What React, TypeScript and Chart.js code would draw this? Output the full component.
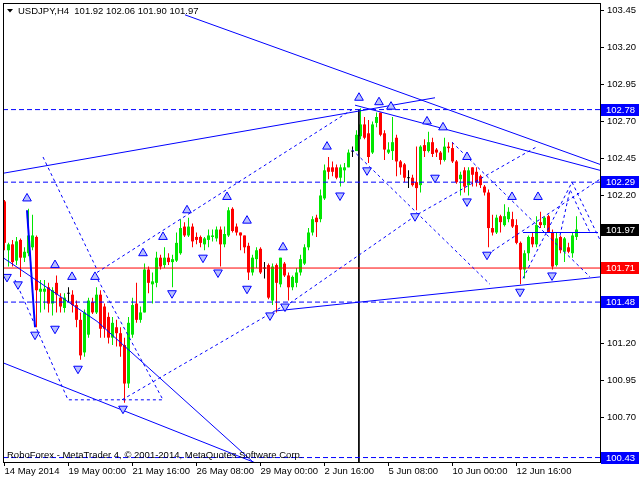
import React, { useEffect, useRef } from "react";
import { Chart, registerables } from "chart.js";

Chart.register(...registerables);

// ---- candle data (H4 bars, USDJPY) ----
const opens = [
  102.16, 101.83, 101.87, 101.76, 101.90, 101.78, 101.81, 101.85, 101.92, 101.55,
  101.55, 101.58, 101.47, 101.61, 101.51, 101.44, 101.54, 101.53, 101.46, 101.36,
  101.14, 101.26, 101.48, 101.41, 101.53, 101.45, 101.38, 101.24, 101.31, 101.27,
  101.19, 100.93, 101.26, 101.47, 101.36, 101.41, 101.70, 101.60, 101.61, 101.78,
  101.73, 101.78, 101.75, 101.76, 101.81, 101.99, 101.93, 101.99, 101.92, 101.92,
  101.87, 101.90, 101.92, 101.91, 101.97, 101.87, 101.93, 102.11, 101.99, 101.95,
  101.93, 101.86, 101.68, 101.77, 101.84, 101.71, 101.73, 101.49, 101.73, 101.60,
  101.74, 101.66, 101.58, 101.61, 101.68, 101.74, 101.85, 101.95, 102.05, 102.04,
  102.18, 102.39, 102.39, 102.39, 102.32, 102.37, 102.39, 102.50, 102.50, 102.60,
  102.68, 102.62, 102.49, 102.69, 102.76, 102.62, 102.49, 102.50, 102.59, 102.43,
  102.41, 102.32, 102.32, 102.29, 102.27, 102.54, 102.50, 102.56, 102.51, 102.49,
  102.44, 102.53, 102.52, 102.43, 102.31, 102.37, 102.27, 102.39, 102.36, 102.33,
  102.26, 102.22, 101.98, 101.95, 102.06, 102.00, 102.04, 102.04, 102.00, 101.88,
  101.70, 101.81, 101.92, 101.87, 102.02, 102.00, 102.06, 101.95, 101.73, 101.92,
  101.82, 101.85, 101.81, 101.92,
];
const highs = [
  102.17, 101.88, 101.90, 101.92, 101.91, 101.85, 102.11, 102.07, 101.93, 101.63,
  101.63, 101.61, 101.58, 101.66, 101.54, 101.54, 101.58, 101.56, 101.49, 101.41,
  101.43, 101.51, 101.51, 101.58, 101.56, 101.47, 101.41, 101.38, 101.36, 101.31,
  101.24, 101.38, 101.51, 101.61, 101.45, 101.74, 101.72, 101.68, 101.82, 101.80,
  101.85, 101.81, 101.80, 101.95, 102.04, 102.02, 102.05, 102.01, 101.95, 101.93,
  101.92, 101.97, 101.97, 101.99, 101.99, 101.99, 102.12, 102.12, 102.01, 101.95,
  101.93, 101.88, 101.80, 101.85, 101.85, 101.75, 101.74, 101.74, 101.74, 101.78,
  101.75, 101.68, 101.66, 101.71, 101.80, 101.87, 101.98, 102.06, 102.07, 102.24,
  102.41, 102.46, 102.43, 102.41, 102.41, 102.42, 102.51, 102.53, 102.64, 102.79,
  102.73, 102.71, 102.70, 102.76, 102.76, 102.64, 102.56, 102.73, 102.61, 102.44,
  102.42, 102.37, 102.34, 102.53, 102.54, 102.58, 102.63, 102.59, 102.52, 102.50,
  102.59, 102.56, 102.56, 102.44, 102.36, 102.39, 102.39, 102.39, 102.39, 102.34,
  102.27, 102.24, 102.07, 102.07, 102.07, 102.14, 102.12, 102.09, 102.04, 101.89,
  101.83, 101.93, 101.95, 102.06, 102.09, 102.06, 102.07, 101.97, 101.95, 101.93,
  101.92, 101.88, 101.95, 102.06,
];
const lows = [
  101.83, 101.72, 101.72, 101.73, 101.65, 101.75, 101.79, 101.83, 101.31, 101.41,
  101.43, 101.41, 101.39, 101.41, 101.41, 101.41, 101.48, 101.41, 101.31, 101.09,
  101.11, 101.24, 101.40, 101.40, 101.24, 101.24, 101.20, 101.19, 101.18, 101.11,
  100.80, 100.90, 101.24, 101.34, 101.34, 101.41, 101.54, 101.47, 101.58, 101.70,
  101.71, 101.73, 101.58, 101.75, 101.80, 101.92, 101.92, 101.85, 101.87, 101.85,
  101.83, 101.85, 101.89, 101.89, 101.72, 101.85, 101.92, 101.95, 101.93, 101.83,
  101.81, 101.63, 101.66, 101.71, 101.67, 101.64, 101.50, 101.46, 101.41, 101.58,
  101.65, 101.49, 101.56, 101.58, 101.66, 101.73, 101.83, 101.93, 101.92, 102.02,
  102.17, 102.31, 102.33, 102.31, 102.26, 102.29, 102.39, 102.46, 102.50, 102.58,
  102.58, 102.42, 102.48, 102.66, 102.60, 102.44, 102.48, 102.44, 102.33, 102.34,
  102.29, 102.25, 102.26, 102.10, 102.22, 102.46, 102.49, 102.46, 102.46, 102.41,
  102.43, 102.49, 102.42, 102.28, 102.20, 102.22, 102.20, 102.26, 102.26, 102.25,
  102.20, 101.85, 101.93, 101.94, 101.95, 101.99, 102.02, 101.98, 101.87, 101.60,
  101.64, 101.76, 101.85, 101.85, 101.98, 101.98, 101.95, 101.70, 101.72, 101.81,
  101.75, 101.81, 101.78, 101.90,
];
const closes = [
  101.88, 101.87, 101.75, 101.89, 101.78, 101.82, 101.93, 101.93, 101.56, 101.57,
  101.57, 101.47, 101.56, 101.53, 101.45, 101.51, 101.54, 101.46, 101.36, 101.12,
  101.41, 101.49, 101.41, 101.53, 101.30, 101.30, 101.24, 101.34, 101.27, 101.18,
  100.93, 101.34, 101.46, 101.36, 101.41, 101.70, 101.61, 101.62, 101.78, 101.72,
  101.78, 101.75, 101.77, 101.88, 101.98, 101.93, 101.99, 101.89, 101.90, 101.88,
  101.91, 101.93, 101.93, 101.97, 101.87, 101.94, 102.10, 101.96, 101.95, 101.93,
  101.85, 101.68, 101.78, 101.83, 101.68, 101.71, 101.51, 101.72, 101.61, 101.78,
  101.66, 101.58, 101.65, 101.68, 101.77, 101.85, 101.95, 102.04, 102.02, 102.20,
  102.37, 102.36, 102.36, 102.32, 102.39, 102.39, 102.49, 102.50, 102.61, 102.68,
  102.59, 102.46, 102.68, 102.73, 102.61, 102.51, 102.51, 102.56, 102.43, 102.39,
  102.32, 102.32, 102.27, 102.25, 102.53, 102.50, 102.56, 102.48, 102.49, 102.44,
  102.53, 102.52, 102.43, 102.29, 102.34, 102.26, 102.37, 102.34, 102.29, 102.27,
  102.22, 101.98, 101.95, 102.05, 102.02, 102.06, 102.09, 101.99, 101.88, 101.70,
  101.81, 101.92, 101.87, 102.00, 102.00, 102.05, 101.95, 101.72, 101.91, 101.83,
  101.91, 101.82, 101.93, 101.97,
];

// ---- axes ----
const xTickIdx = [0, 16, 32, 48, 64, 80, 96, 112, 128];
const xLabels = [
  "14 May 2014", "19 May 00:00", "21 May 16:00", "26 May 08:00", "29 May 00:00",
  "2 Jun 16:00", "5 Jun 08:00", "10 Jun 00:00", "12 Jun 16:00",
];
const yTicks = [100.45, 100.7, 100.95, 101.2, 101.45, 101.7, 101.95, 102.2, 102.45, 102.7, 102.95, 103.2, 103.45];
const hiddenYTicks = [100.45, 101.45, 101.7, 101.95];
const X_MIN = -0.375;
const X_MAX = 148.875;
const Y_MIN = 100.4;
const Y_MAX = 103.5;

// ---- levels / texts ----
const blueLevels = [102.78, 102.29, 101.48, 100.43];
const redLevel = 101.71;
const bidPrice = 101.97;
const titleText = "USDJPY,H4  101.92 102.06 101.90 101.97";
const copyrightText = "RoboForex - MetaTrader 4, \u00A9 2001-2014, MetaQuotes Software Corp.";

// ---- drawn objects (bar index, price) ----
const solidLines: number[][][] = [
  [[45.125, 103.42], [148.875, 102.41]],
  [[-0.375, 102.35], [107.625, 102.86]],
  [[87.625, 102.81], [148.875, 102.37]],
  [[67.625, 101.42], [148.875, 101.65]],
  [[-0.375, 101.07], [63.125, 100.39]],
  [[-0.375, 101.78], [23.125, 101.35], [62.125, 100.4]],
  [[129.625, 101.95], [148.375, 101.95]],
];
const thickLine: number[][] = [[5.625, 102.1], [7.625, 101.31]];
const dashedLines: number[][][] = [
  [[9.625, 102.46], [23.125, 101.7]],
  [[23.125, 101.68], [86.875, 102.78]],
  [[2.625, 101.63], [15.875, 100.82], [39.625, 100.82], [23.375, 101.63]],
  [[29.375, 100.82], [70.125, 101.46]],
  [[86.875, 102.51], [121.375, 101.6]],
  [[70.125, 101.45], [103.125, 102.07], [133.125, 102.53]],
  [[111.875, 102.56], [146.375, 101.65]],
  [[120.625, 101.8], [148.875, 102.31]],
  [[129.625, 101.64], [141.875, 102.29], [148.875, 101.9]],
  [[138.875, 101.93], [141.375, 102.24], [143.875, 102.09], [146.375, 101.95]],
];
const vLineX = 88.6;
const upMarks: number[][] = [
  [5.625, 102.18], [12.625, 101.73], [16.875, 101.65], [22.625, 101.65], [34.625, 101.81],
  [39.625, 101.92], [45.625, 102.1], [55.625, 102.19], [60.625, 102.03], [69.625, 101.85],
  [80.625, 102.53], [88.625, 102.86], [93.625, 102.83], [96.625, 102.8], [105.625, 102.7],
  [109.625, 102.66], [115.625, 102.46], [126.875, 102.19], [133.375, 102.19],
];
const downMarks: number[][] = [
  [0.625, 101.65], [3.375, 101.6], [7.625, 101.26], [12.625, 101.3], [18.375, 101.03],
  [29.625, 100.76], [41.875, 101.54], [49.625, 101.78], [53.375, 101.68], [60.625, 101.57],
  [66.375, 101.39], [70.125, 101.45], [83.875, 102.2], [90.625, 102.37], [102.625, 102.06],
  [107.625, 102.32], [115.625, 102.16], [120.625, 101.8], [128.875, 101.55], [136.875, 101.66],
];

const GREEN = "#00e600";
const RED = "#ff0000";
const BLUE = "#0000ff";
const FONT = '"Liberation Sans", Arial, sans-serif';

export default function App() {
  const ref = useRef<HTMLCanvasElement>(null);

  useEffect(() => {
    document.body.style.margin = "0";
    const canvas = ref.current;
    if (!canvas) return;

    const idx = opens.map((_, i) => i);
    const colorOf = (i: number) => (closes[i] > opens[i] ? GREEN : closes[i] < opens[i] ? RED : "#000000");
    const colors = idx.map(colorOf);
    const wickData = idx.map((i) => ({ x: i, y: [lows[i], highs[i]] }));
    const bodyData = idx.map((i) => {
      let a = Math.min(opens[i], closes[i]);
      let b = Math.max(opens[i], closes[i]);
      if (b - a < 0.005) {
        a -= 0.003;
        b += 0.003;
      }
      return { x: i, y: [a, b] };
    });

    const lineDs = (pts: number[][], color: string, dash: number[], width = 1, order = 1) => ({
      type: "line" as const,
      data: pts.map(([x, y]) => ({ x, y })),
      borderColor: color,
      borderWidth: width,
      borderDash: dash,
      pointRadius: 0,
      fill: false,
      tension: 0,
      order,
    });

    const datasets: any[] = [
      {
        type: "bar",
        data: wickData,
        backgroundColor: colors,
        borderWidth: 0,
        barThickness: 1,
        grouped: false,
        inflateAmount: 0,
        order: 4,
      },
      {
        type: "bar",
        data: bodyData,
        backgroundColor: colors,
        borderWidth: 0,
        barThickness: 3,
        grouped: false,
        inflateAmount: 0,
        order: 3,
      },
    ];
    blueLevels.forEach((v) => datasets.push(lineDs([[X_MIN, v], [X_MAX, v]], BLUE, [5, 3], 1, 2)));
    datasets.push(lineDs([[X_MIN, redLevel], [X_MAX, redLevel]], RED, [], 1, 2));
    datasets.push(lineDs([[vLineX, 102.78], [vLineX, Y_MIN]], "#000000", [], 1, 2));
    solidLines.forEach((l) => datasets.push(lineDs(l, BLUE, [], 1, 1)));
    datasets.push(lineDs(thickLine, BLUE, [], 2, 1));
    dashedLines.forEach((l) => datasets.push(lineDs(l, BLUE, [3, 3], 1, 1)));
    datasets.push({
      type: "line",
      data: upMarks.map(([x, y]) => ({ x, y })),
      showLine: false,
      pointStyle: "triangle",
      pointRadius: 5,
      pointBackgroundColor: "#b8c0ff",
      pointBorderColor: BLUE,
      pointBorderWidth: 1,
      order: 0,
    });
    datasets.push({
      type: "line",
      data: downMarks.map(([x, y]) => ({ x, y })),
      showLine: false,
      pointStyle: "triangle",
      pointRotation: 180,
      pointRadius: 5,
      pointBackgroundColor: "#b8c0ff",
      pointBorderColor: BLUE,
      pointBorderWidth: 1,
      order: 0,
    });

    const overlay = {
      id: "overlay",
      afterDraw(chart: any) {
        const { ctx, chartArea: a, scales } = chart;
        const y = scales.y;
        ctx.save();
        ctx.strokeStyle = "#000";
        ctx.lineWidth = 1;
        ctx.setLineDash([]);
        ctx.strokeRect(a.left + 0.5, a.top + 0.5, a.right - a.left, a.bottom - a.top);

        // title
        ctx.fillStyle = "#000";
        ctx.beginPath();
        ctx.moveTo(7, 9);
        ctx.lineTo(13, 9);
        ctx.lineTo(10, 12.5);
        ctx.closePath();
        ctx.fill();
        ctx.font = `9.5px ${FONT}`;
        ctx.textAlign = "left";
        ctx.textBaseline = "middle";
        ctx.fillText(titleText, 18, 11);
        ctx.fillText(copyrightText, 7, 455);

        // price boxes
        const box = (v: number, bg: string) => {
          const py = y.getPixelForValue(v);
          ctx.fillStyle = bg;
          ctx.fillRect(a.right + 1, Math.round(py) - 6, 38, 12);
          ctx.fillStyle = "#ffffff";
          ctx.font = `9.5px ${FONT}`;
          ctx.fillText(v.toFixed(2), a.right + 6, Math.round(py) + 0.5);
        };
        blueLevels.forEach((v) => box(v, BLUE));
        box(redLevel, RED);
        box(bidPrice, "#000000");
        ctx.restore();
      },
    };

    const chart = new Chart(canvas, {
      type: "bar",
      data: { datasets },
      options: {
        responsive: false,
        animation: false,
        devicePixelRatio: 1,
        events: [],
        layout: { autoPadding: false, padding: { left: 3, top: 3, right: 0, bottom: 0 } },
        plugins: { legend: { display: false }, tooltip: { enabled: false } },
        scales: {
          x: {
            type: "linear",
            min: X_MIN,
            max: X_MAX,
            offset: false,
            position: "bottom",
            border: { display: false },
            grid: { display: true, drawOnChartArea: false, drawTicks: true, tickLength: 4, color: "#000", offset: false },
            afterBuildTicks: (s: any) => {
              s.ticks = xTickIdx.map((v) => ({ value: v }));
            },
            afterFit: (s: any) => {
              s.height = 18;
              s.paddingLeft = 0;
              s.paddingRight = 0;
            },
            ticks: {
              autoSkip: false,
              maxRotation: 0,
              minRotation: 0,
              align: "start",
              padding: 0,
              color: "#000",
              font: { family: FONT, size: 9.5 },
              callback: (_v: any, i: number) => xLabels[i] ?? "",
            },
          },
          y: {
            type: "linear",
            position: "right",
            min: Y_MIN,
            max: Y_MAX,
            border: { display: false },
            grid: { display: true, drawOnChartArea: false, drawTicks: true, tickLength: 4, color: "#000" },
            afterBuildTicks: (s: any) => {
              s.ticks = yTicks.map((v) => ({ value: v }));
            },
            afterFit: (s: any) => {
              s.width = 40;
              s.paddingTop = 0;
              s.paddingBottom = 0;
            },
            ticks: {
              padding: 3,
              color: "#000",
              font: { family: FONT, size: 9.5 },
              callback: (v: any) => {
                const n = Number(v);
                return hiddenYTicks.some((h) => Math.abs(h - n) < 1e-6) ? "" : n.toFixed(2);
              },
            },
          },
        },
      },
      plugins: [overlay],
    } as any);

    return () => chart.destroy();
  }, []);

  return (
    <div style={{ width: 640, height: 480, background: "#fff" }}>
      <canvas ref={ref} width={640} height={480} style={{ display: "block" }} />
    </div>
  );
}
